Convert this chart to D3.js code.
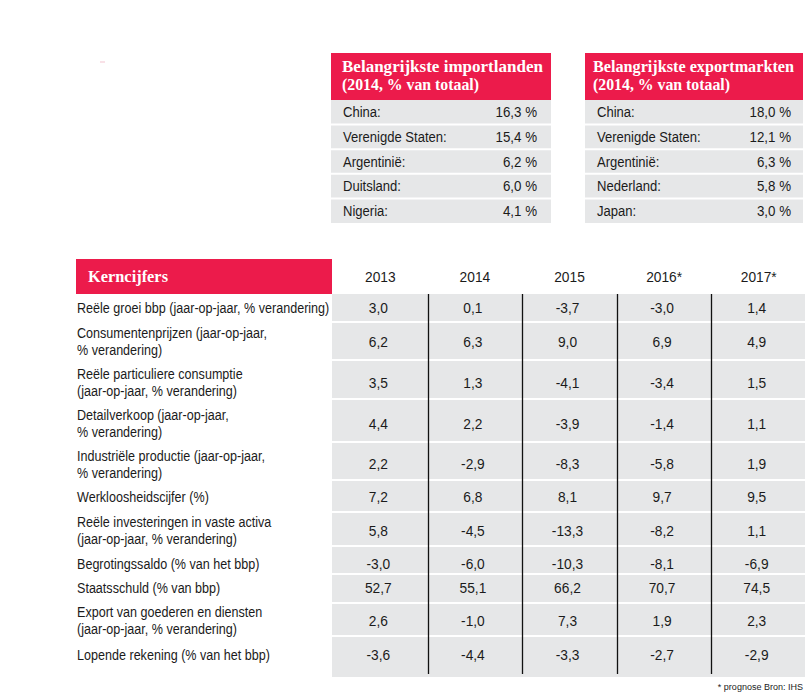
<!DOCTYPE html>
<html>
<head>
<meta charset="utf-8">
<script src="https://cdn.jsdelivr.net/npm/d3@7"></script>
<style>
html,body{margin:0;padding:0;background:#fff;}
svg{display:block;}
.body{font-family:"Liberation Sans Narrow","Arial Narrow",sans-serif;fill:#1b1b1b;}
.title{font-family:"Liberation Serif","Times New Roman",serif;font-weight:bold;fill:#fff;}
</style>
</head>
<body>
<script>
// ---------- data ----------
const importCountries = ["China:", "Verenigde Staten:", "Argentinië:", "Duitsland:", "Nigeria:"];
const importShares = [16.3, 15.4, 6.2, 6.0, 4.1];
const exportCountries = ["China:", "Verenigde Staten:", "Argentinië:", "Nederland:", "Japan:"];
const exportShares = [18.0, 12.1, 6.3, 5.8, 3.0];
const years = ["2013", "2014", "2015", "2016*", "2017*"];
const indicators = [
  ["Reële groei bbp (jaar-op-jaar, % verandering)"],
  ["Consumentenprijzen (jaar-op-jaar,", "% verandering)"],
  ["Reële particuliere consumptie", "(jaar-op-jaar, % verandering)"],
  ["Detailverkoop (jaar-op-jaar,", "% verandering)"],
  ["Industriële productie (jaar-op-jaar,", "% verandering)"],
  ["Werkloosheidscijfer (%)"],
  ["Reële investeringen in vaste activa", "(jaar-op-jaar, % verandering)"],
  ["Begrotingssaldo (% van het bbp)"],
  ["Staatsschuld (% van bbp)"],
  ["Export van goederen en diensten", "(jaar-op-jaar, % verandering)"],
  ["Lopende rekening (% van het bbp)"]
];
const values = [
  [3.0, 0.1, -3.7, -3.0, 1.4],
  [6.2, 6.3, 9.0, 6.9, 4.9],
  [3.5, 1.3, -4.1, -3.4, 1.5],
  [4.4, 2.2, -3.9, -1.4, 1.1],
  [2.2, -2.9, -8.3, -5.8, 1.9],
  [7.2, 6.8, 8.1, 9.7, 9.5],
  [5.8, -4.5, -13.3, -8.2, 1.1],
  [-3.0, -6.0, -10.3, -8.1, -6.9],
  [52.7, 55.1, 66.2, 70.7, 74.5],
  [2.6, -1.0, 7.3, 1.9, 2.3],
  [-3.6, -4.4, -3.3, -2.7, -2.9]
];
const importTitle = ["Belangrijkste importlanden", "(2014, % van totaal)"];
const exportTitle = ["Belangrijkste exportmarkten", "(2014, % van totaal)"];
const tableTitle = "Kerncijfers";
const footnote = "* prognose Bron: IHS";

// ---------- layout ----------
const RED = "#ec1b4b", GRAY = "#e6e7e8";
const rowEdges = [294, 322, 360, 399, 442, 480, 512, 546, 574, 603, 636, 677];
const rowCenters = [307.5, 341.5, 382.5, 423.5, 464, 497, 530.5, 564, 588, 620.5, 655];
const titleWidths = [201, 137];

const nl = d3.formatLocale({decimal: ",", thousands: ".", grouping: [3], currency: ["€", ""], minus: "-"});
const fmt = nl.format(".1f");

const svg = d3.select("body").append("svg").attr("width", 807).attr("height", 700);

function place(sel, fx, fy, sx) {
  return sel.attr("transform", (d, i) => `translate(${fx(d, i)},${fy(d, i)}) scale(${sx},1)`);
}

// faint artefact mark
svg.append("rect").attr("x", 100).attr("y", 61.5).attr("width", 5).attr("height", 1).attr("fill", "#f3c3cf");

// ---------- small country tables ----------
function countryTable(x0, x1, titleX, labelX, valueX, title, names, shares) {
  const g = svg.append("g");
  const top = 53, headBottom = 100, bottom = 223;
  g.append("rect").attr("x", x0).attr("y", top).attr("width", x1 - x0).attr("height", headBottom - top).attr("fill", RED);
  g.selectAll("text.t").data(title).join("text").attr("class", "title")
    .attr("x", titleX).attr("y", (d, i) => 72 + i * 18).attr("font-size", 17.2)
    .attr("textLength", (d, i) => titleWidths[i]).attr("lengthAdjust", "spacingAndGlyphs").text(d => d);
  const y = d3.scaleBand().domain(d3.range(names.length)).range([headBottom, bottom]);
  g.selectAll("rect.r").data(names).join("rect")
    .attr("x", x0).attr("y", (d, i) => y(i)).attr("width", x1 - x0).attr("height", y.bandwidth()).attr("fill", GRAY);
  g.selectAll("line.s").data(d3.range(1, names.length)).join("line")
    .attr("x1", x0).attr("x2", x1).attr("y1", i => y(i)).attr("y2", i => y(i))
    .attr("stroke", "#fff").attr("stroke-width", 2);
  place(g.selectAll("text.n").data(names).join("text").attr("class", "body").attr("font-size", 14.5),
    () => labelX, (d, i) => y(i) + y.bandwidth() / 2, 0.9)
    .attr("dy", "0.35em").text(d => d);
  place(g.selectAll("text.v").data(shares).join("text").attr("class", "body").attr("font-size", 14.5),
    () => valueX, (d, i) => y(i) + y.bandwidth() / 2, 0.92)
    .attr("dy", "0.35em").attr("text-anchor", "end").text(d => fmt(d) + " %");
}
countryTable(331, 551, 342, 343, 537, importTitle, importCountries, importShares);
countryTable(585, 803, 593, 597, 791, exportTitle, exportCountries, exportShares);

// ---------- key figures table ----------
const x = d3.scaleBand().domain(years).range([333, 806]);
const gk = svg.append("g");
gk.append("rect").attr("x", 76).attr("y", 259).attr("width", 256).attr("height", 35).attr("fill", RED);
gk.append("text").attr("class", "title").attr("x", 88).attr("y", 282).attr("font-size", 16.8)
  .attr("textLength", 80).attr("lengthAdjust", "spacingAndGlyphs").text(tableTitle);

place(gk.selectAll("text.y").data(years).join("text").attr("class", "body").attr("font-size", 14.5),
  d => x(d) + x.bandwidth() / 2, () => 277, 0.95)
  .attr("dy", "0.35em").attr("text-anchor", "middle").text(d => d);

gk.append("rect").attr("x", 332).attr("y", rowEdges[0]).attr("width", 805 - 332)
  .attr("height", rowEdges[rowEdges.length - 1] - rowEdges[0]).attr("fill", GRAY);
gk.selectAll("line.h").data(rowEdges.slice(1, -1)).join("line")
  .attr("x1", 332).attr("x2", 805).attr("y1", d => d).attr("y2", d => d)
  .attr("stroke", "#fff").attr("stroke-width", 2);
gk.selectAll("line.v").data(years.slice(1)).join("line")
  .attr("x1", d => Math.round(x(d)) + 0.5).attr("x2", d => Math.round(x(d)) + 0.5)
  .attr("y1", rowEdges[0]).attr("y2", rowEdges[rowEdges.length - 1] - 3)
  .attr("stroke", "#111").attr("stroke-width", 1.3);

const rows = gk.selectAll("g.row").data(indicators).join("g").attr("class", "row");
rows.each(function (lines, i) {
  const g = d3.select(this);
  const cy = rowCenters[i];
  const lh = 17;
  place(g.selectAll("text.l").data(lines).join("text").attr("class", "body").attr("font-size", 14.5),
    () => 77, (d, j) => cy + (j - (lines.length - 1) / 2) * lh, 0.868)
    .attr("dy", "0.35em").text(d => d);
  place(g.selectAll("text.v").data(values[i]).join("text").attr("class", "body").attr("font-size", 14.5),
    (d, j) => x(years[j]) + x.bandwidth() / 2 - 2, () => cy, 0.95)
    .attr("dy", "0.35em").attr("text-anchor", "middle").text(d => fmt(d));
});

place(svg.append("text").attr("class", "body").attr("font-size", 9.5), () => 803, () => 690, 0.95)
  .attr("text-anchor", "end").text(footnote);
</script>
</body>
</html>
